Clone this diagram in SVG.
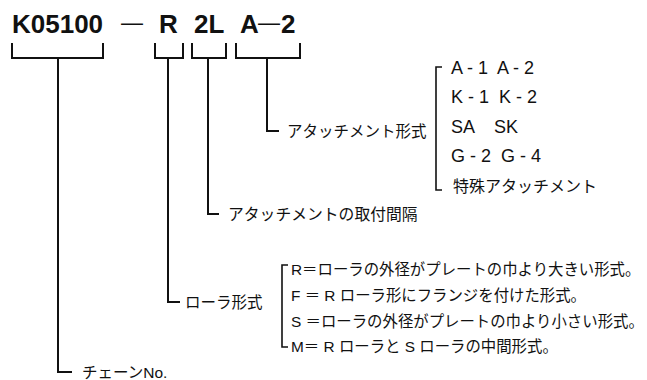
<svg xmlns="http://www.w3.org/2000/svg" width="647" height="380" viewBox="0 0 647 380">
<style>
.t{font-family:"Liberation Sans","Noto Sans CJK JP",sans-serif;fill:#111}
.title{font-size:26px;font-weight:bold}
.dash{font-size:22px;font-weight:normal}
.j{font-size:15.5px}
.jr{font-size:15.8px}
.jl{font-size:15.4px}
.l{font-size:18px}
.j16{font-size:16px}
.ln{fill:none;stroke:#111;stroke-width:2}
.br{fill:none;stroke:#111;stroke-width:1.6}
</style>
<rect width="647" height="380" fill="#fff"/>
<g id="code">
<text class="t title" x="12" y="33">K05100</text>
<text class="t dash" x="121" y="30">—</text>
<text class="t title" x="159" y="33">R</text>
<text class="t title" x="194" y="33">2L</text>
<text class="t title" x="240" y="33">A</text>
<text class="t dash" x="258" y="30">—</text>
<text class="t title" x="281" y="33">2</text>
</g>
<g id="connectors">
<path class="ln" d="M12,43 V58 H103 V43 M58,58 V372 H72"/>
<path class="ln" d="M155,43 V58 H183 V43 M168,58 V302 H180"/>
<path class="ln" d="M192,43 V58 H226 V43 M208,58 V214 H219"/>
<path class="ln" d="M236,43 V58 H300 V43 M267,58 V131 H279"/>
<path class="br" d="M442,67 H436 V190 H442"/>
<path class="br" d="M288,265 H282 V347 H288"/>
</g>
<g id="attachment">
<text class="t j" x="287" y="137">アタッチメント形式</text>
<text class="t l" x="451" y="74" xml:space="preserve">A - 1  A - 2</text>
<text class="t l" x="451" y="103" xml:space="preserve">K - 1  K - 2</text>
<text class="t l" x="451" y="132.5" xml:space="preserve">SA    SK</text>
<text class="t l" x="451" y="162" xml:space="preserve">G - 2  G - 4</text>
<text class="t j16" x="453" y="192">特殊アタッチメント</text>
</g>
<g id="pitch">
<text class="t jr" x="228" y="220">アタッチメントの取付間隔</text>
</g>
<g id="roller">
<text class="t j" x="185" y="307.5">ローラ形式</text>
<text class="t jl" x="291" y="275">R＝ローラの外径がプレートの巾より大きい形式。</text>
<text class="t jl" x="291" y="300.5" xml:space="preserve">F ＝ R ローラ形にフランジを付けた形式。</text>
<text class="t jl" x="291" y="326.5" xml:space="preserve">S ＝ローラの外径がプレートの巾より小さい形式。</text>
<text class="t jl" x="291" y="352" xml:space="preserve">M＝ R ローラと S ローラの中間形式。</text>
</g>
<g id="chain">
<text class="t j" x="82" y="378">チェーンNo.</text>
</g>
</svg>
